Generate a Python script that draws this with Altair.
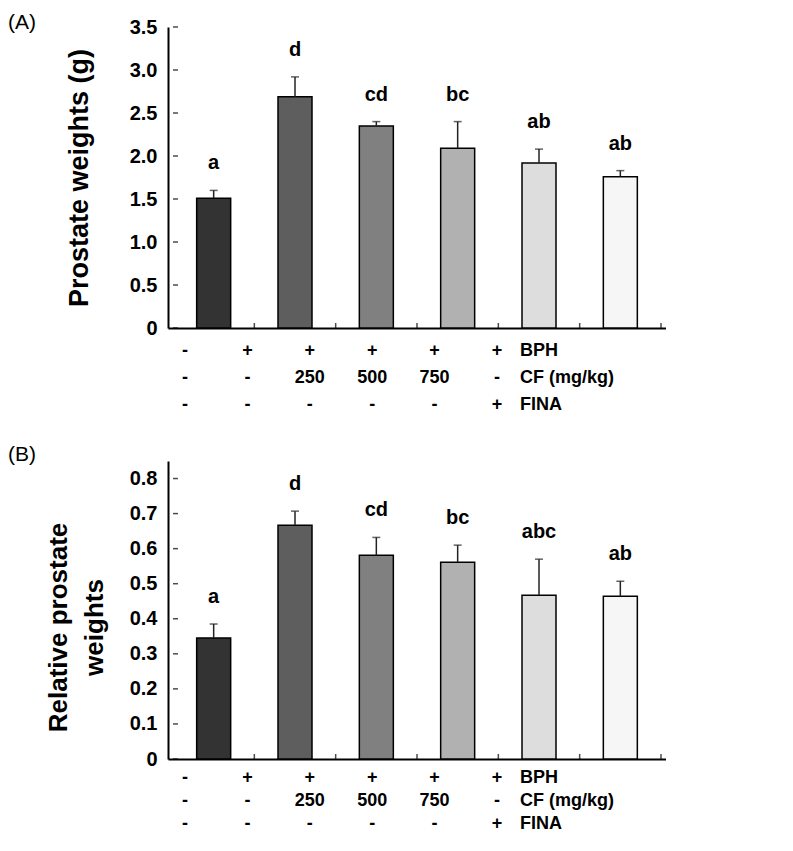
import altair as alt
import pandas as pd

# ---- data ----
group_index = [0, 1, 2, 3, 4, 5]
weight_mean = [1.51, 2.69, 2.35, 2.09, 1.92, 1.76]
weight_err = [0.09, 0.23, 0.05, 0.31, 0.16, 0.07]
weight_letters = ["a", "d", "cd", "bc", "ab", "ab"]

rel_mean = [0.345, 0.667, 0.581, 0.561, 0.467, 0.464]
rel_err = [0.040, 0.040, 0.051, 0.049, 0.103, 0.043]
rel_letters = ["a", "d", "cd", "bc", "abc", "ab"]

bar_fills = ["#333333", "#5e5e5e", "#808080", "#b1b1b1", "#dddddd", "#f6f6f6"]

bph_row = ["-", "+", "+", "+", "+", "+"]
cf_row = ["-", "-", "250", "500", "750", "-"]
fina_row = ["-", "-", "-", "-", "-", "+"]
row_names = ["BPH", "CF (mg/kg)", "FINA"]

ticks_A = [0, 0.5, 1.0, 1.5, 2.0, 2.5, 3.0, 3.5]
ticks_B = [0, 0.1, 0.2, 0.3, 0.4, 0.5, 0.6, 0.7, 0.8]

FONT = "Liberation Sans"
PLOT_W = 498


def make_panel(mean, err, letters, yticks, ydomain, height, ytitle, panel_label,
               label_range, title_kw, title_offset, title_size):
    df = pd.DataFrame({
        "g": group_index,
        "mean": mean,
        "err": err,
        "letter": letters,
        "fill": bar_fills,
    })
    base = alt.Chart(df).transform_calculate(
        center="datum.g + 0.5", top="datum.mean + datum.err"
    )
    xscale = alt.Scale(domain=[0, len(group_index)], nice=False, zero=False)
    xaxis = alt.Axis(title=None, labels=False, ticks=False, grid=False,
                     domainColor="black", domainWidth=2)
    yscale = alt.Scale(domain=ydomain, nice=False, zero=True)
    yaxis = alt.Axis(
        values=yticks, grid=False, ticks=False, domainColor="black",
        domainWidth=2, labelFont=FONT, labelFontWeight="bold", labelFontSize=20,
        labelColor="black", labelPadding=11,
        labelExpr="datum.value == 0 ? '0' : format(datum.value, '.1f')",
        titleFont=FONT, titleFontWeight="bold", titleFontSize=title_size,
        titleColor="black", **title_kw,
    )

    def X(field):
        return alt.X(field, scale=xscale, axis=xaxis)

    def Y(field):
        return alt.Y(field, scale=yscale, axis=yaxis, title=ytitle)

    bars = base.mark_bar(width=34, stroke="black", strokeWidth=1.5).encode(
        x=X("center:Q"), y=Y("mean:Q"), fill=alt.Fill("fill:N", scale=None)
    )
    err_rule = base.mark_rule(color="#222222", strokeWidth=1.5).encode(
        x=X("center:Q"), y=Y("mean:Q"), y2="top:Q"
    )
    caps = base.mark_tick(orient="horizontal", size=8, thickness=1.5,
                          color="#222222").encode(x=X("center:Q"), y=Y("top:Q"))
    sig = base.mark_text(dy=-27, baseline="middle", font=FONT, fontSize=20,
                         fontWeight="bold", color="black").encode(
        x=X("center:Q"), y=Y("top:Q"), text="letter:N"
    )
    ytick_df = pd.DataFrame({"v": yticks, "x0": [0] * len(yticks)})
    ytk = alt.Chart(ytick_df).mark_tick(
        orient="horizontal", size=5, xOffset=2.5, thickness=1.5, color="black"
    ).encode(x=X("x0:Q"), y=Y("v:Q"))
    xtick_df = pd.DataFrame({"b": [i + 1 for i in group_index],
                             "y0": [0] * len(group_index)})
    xtk = alt.Chart(xtick_df).mark_tick(
        orient="vertical", size=5, yOffset=-2.5, thickness=1.5, color="black"
    ).encode(x=X("b:Q"), y=Y("y0:Q"))

    main = alt.layer(bars, err_rule, caps, sig, ytk, xtk)

    # condition table under the axis
    recs = []
    for rname, row in zip(row_names, [bph_row, cf_row, fina_row]):
        for c, t in zip(group_index, row):
            recs.append({"c": c, "r": rname, "t": t})
    tab_df = pd.DataFrame(recs)
    name_df = pd.DataFrame({"c": [group_index[-1]] * len(row_names), "r": row_names})
    lx = alt.X("c:Q", scale=alt.Scale(domain=[0, group_index[-1]], range=[17, 329],
                                      nice=False, zero=False), axis=None)
    ly = alt.Y("r:N", scale=alt.Scale(type="point", domain=row_names,
                                      range=label_range, padding=0), axis=None)
    tab = alt.Chart(tab_df).mark_text(baseline="middle", font=FONT, fontSize=18,
                                      fontWeight="bold", color="black").encode(
        x=lx, y=ly, text="t:N")
    names = alt.Chart(name_df).mark_text(baseline="middle", align="left", dx=23,
                                         font=FONT, fontSize=18, fontWeight="bold",
                                         color="black").encode(x=lx, y=ly, text="r:N")
    table = alt.layer(tab, names)

    return alt.layer(main, table).resolve_scale(
        x="independent", y="independent"
    ).properties(
        width=PLOT_W, height=height,
        title=alt.TitleParams(panel_label, anchor="start", frame="group", dx=-160,
                              font=FONT, fontSize=21, fontWeight="normal",
                              color="black", offset=title_offset),
    )


panel_a = make_panel(weight_mean, weight_err, weight_letters, ticks_A, [0, 3.5], 301,
                     "Prostate weights (g)", "(A)", [324, 378],
                     dict(titlePadding=36), -16, 27)
panel_b = make_panel(rel_mean, rel_err, rel_letters, ticks_B, [0, 0.85], 298,
                     ["Relative prostate", "weights"], "(B)", [317, 363],
                     dict(titlePadding=22, titleLineHeight=36, titleY=166), -4, 26)

chart = alt.vconcat(panel_a, panel_b, spacing=30).properties(
    padding={"top": 4, "left": 0, "right": 0, "bottom": 0}
).configure_view(stroke=None)

chart.save("out.html", embed_options={"renderer": "svg", "actions": False})
